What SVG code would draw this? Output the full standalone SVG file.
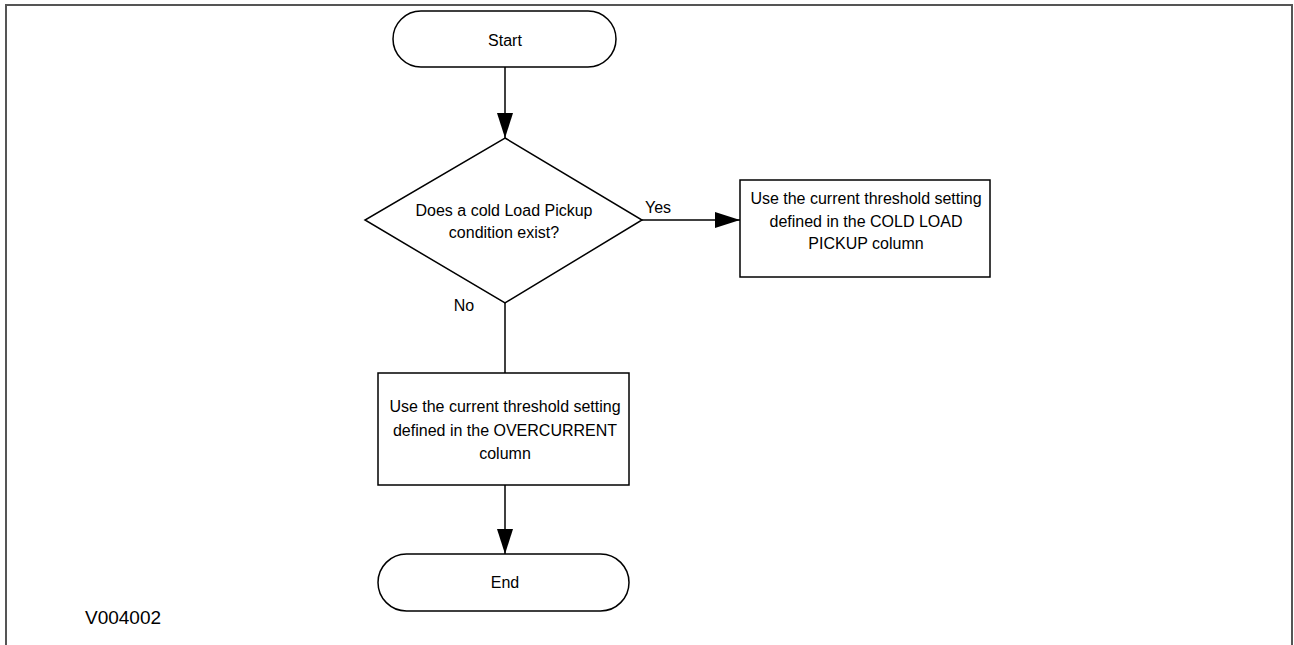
<svg xmlns="http://www.w3.org/2000/svg" width="1294" height="645" viewBox="0 0 1294 645">
<style>
.shape{fill:#fff;stroke:#000;stroke-width:1.5}
.conn{fill:none;stroke:#000;stroke-width:1.5}
text{font-family:"Liberation Sans",Arial,sans-serif;font-size:16px;fill:#000;text-anchor:middle;dominant-baseline:central}
.frame{fill:none;stroke:#555;stroke-width:2}
</style>
<defs>
<marker id="arr" markerWidth="25" markerHeight="16" refX="25" refY="8" orient="auto" markerUnits="userSpaceOnUse">
<path d="M0,0 L25,8 L0,16 Z" fill="#000"/>
</marker>
</defs>
<polyline class="frame" points="6,645 6,5 1292,5 1292,645"/>
<g id="connectors">
<line class="conn" x1="505" y1="67" x2="505" y2="138" marker-end="url(#arr)"/>
<line class="conn" x1="642" y1="220" x2="740" y2="220" marker-end="url(#arr)"/>
<line class="conn" x1="505" y1="303" x2="505" y2="373"/>
<line class="conn" x1="505" y1="485" x2="505" y2="554" marker-end="url(#arr)"/>
<text x="658" y="207">Yes</text>
<text x="464" y="305">No</text>
</g>
<g id="start">
<rect class="shape" x="393" y="11" width="223" height="56" rx="28"/>
<text x="505" y="40">Start</text>
</g>
<g id="decision">
<polygon class="shape" points="505,138 642,220 505,303 365,220"/>
<text x="504" y="210">Does a cold Load Pickup</text>
<text x="504" y="232">condition exist?</text>
</g>
<g id="cold-load">
<rect class="shape" x="740" y="180" width="250" height="97"/>
<text x="866" y="198">Use the current threshold setting</text>
<text x="866" y="221">defined in the COLD LOAD</text>
<text x="866" y="243">PICKUP column</text>
</g>
<g id="overcurrent">
<rect class="shape" x="378" y="373" width="251" height="112"/>
<text x="505" y="406">Use the current threshold setting</text>
<text x="505" y="430">defined in the OVERCURRENT</text>
<text x="505" y="453">column</text>
</g>
<g id="end">
<rect class="shape" x="378" y="554" width="251" height="57" rx="28.5"/>
<text x="505" y="582">End</text>
</g>
<text x="123" y="617" style="font-size:19px">V004002</text>
</svg>
